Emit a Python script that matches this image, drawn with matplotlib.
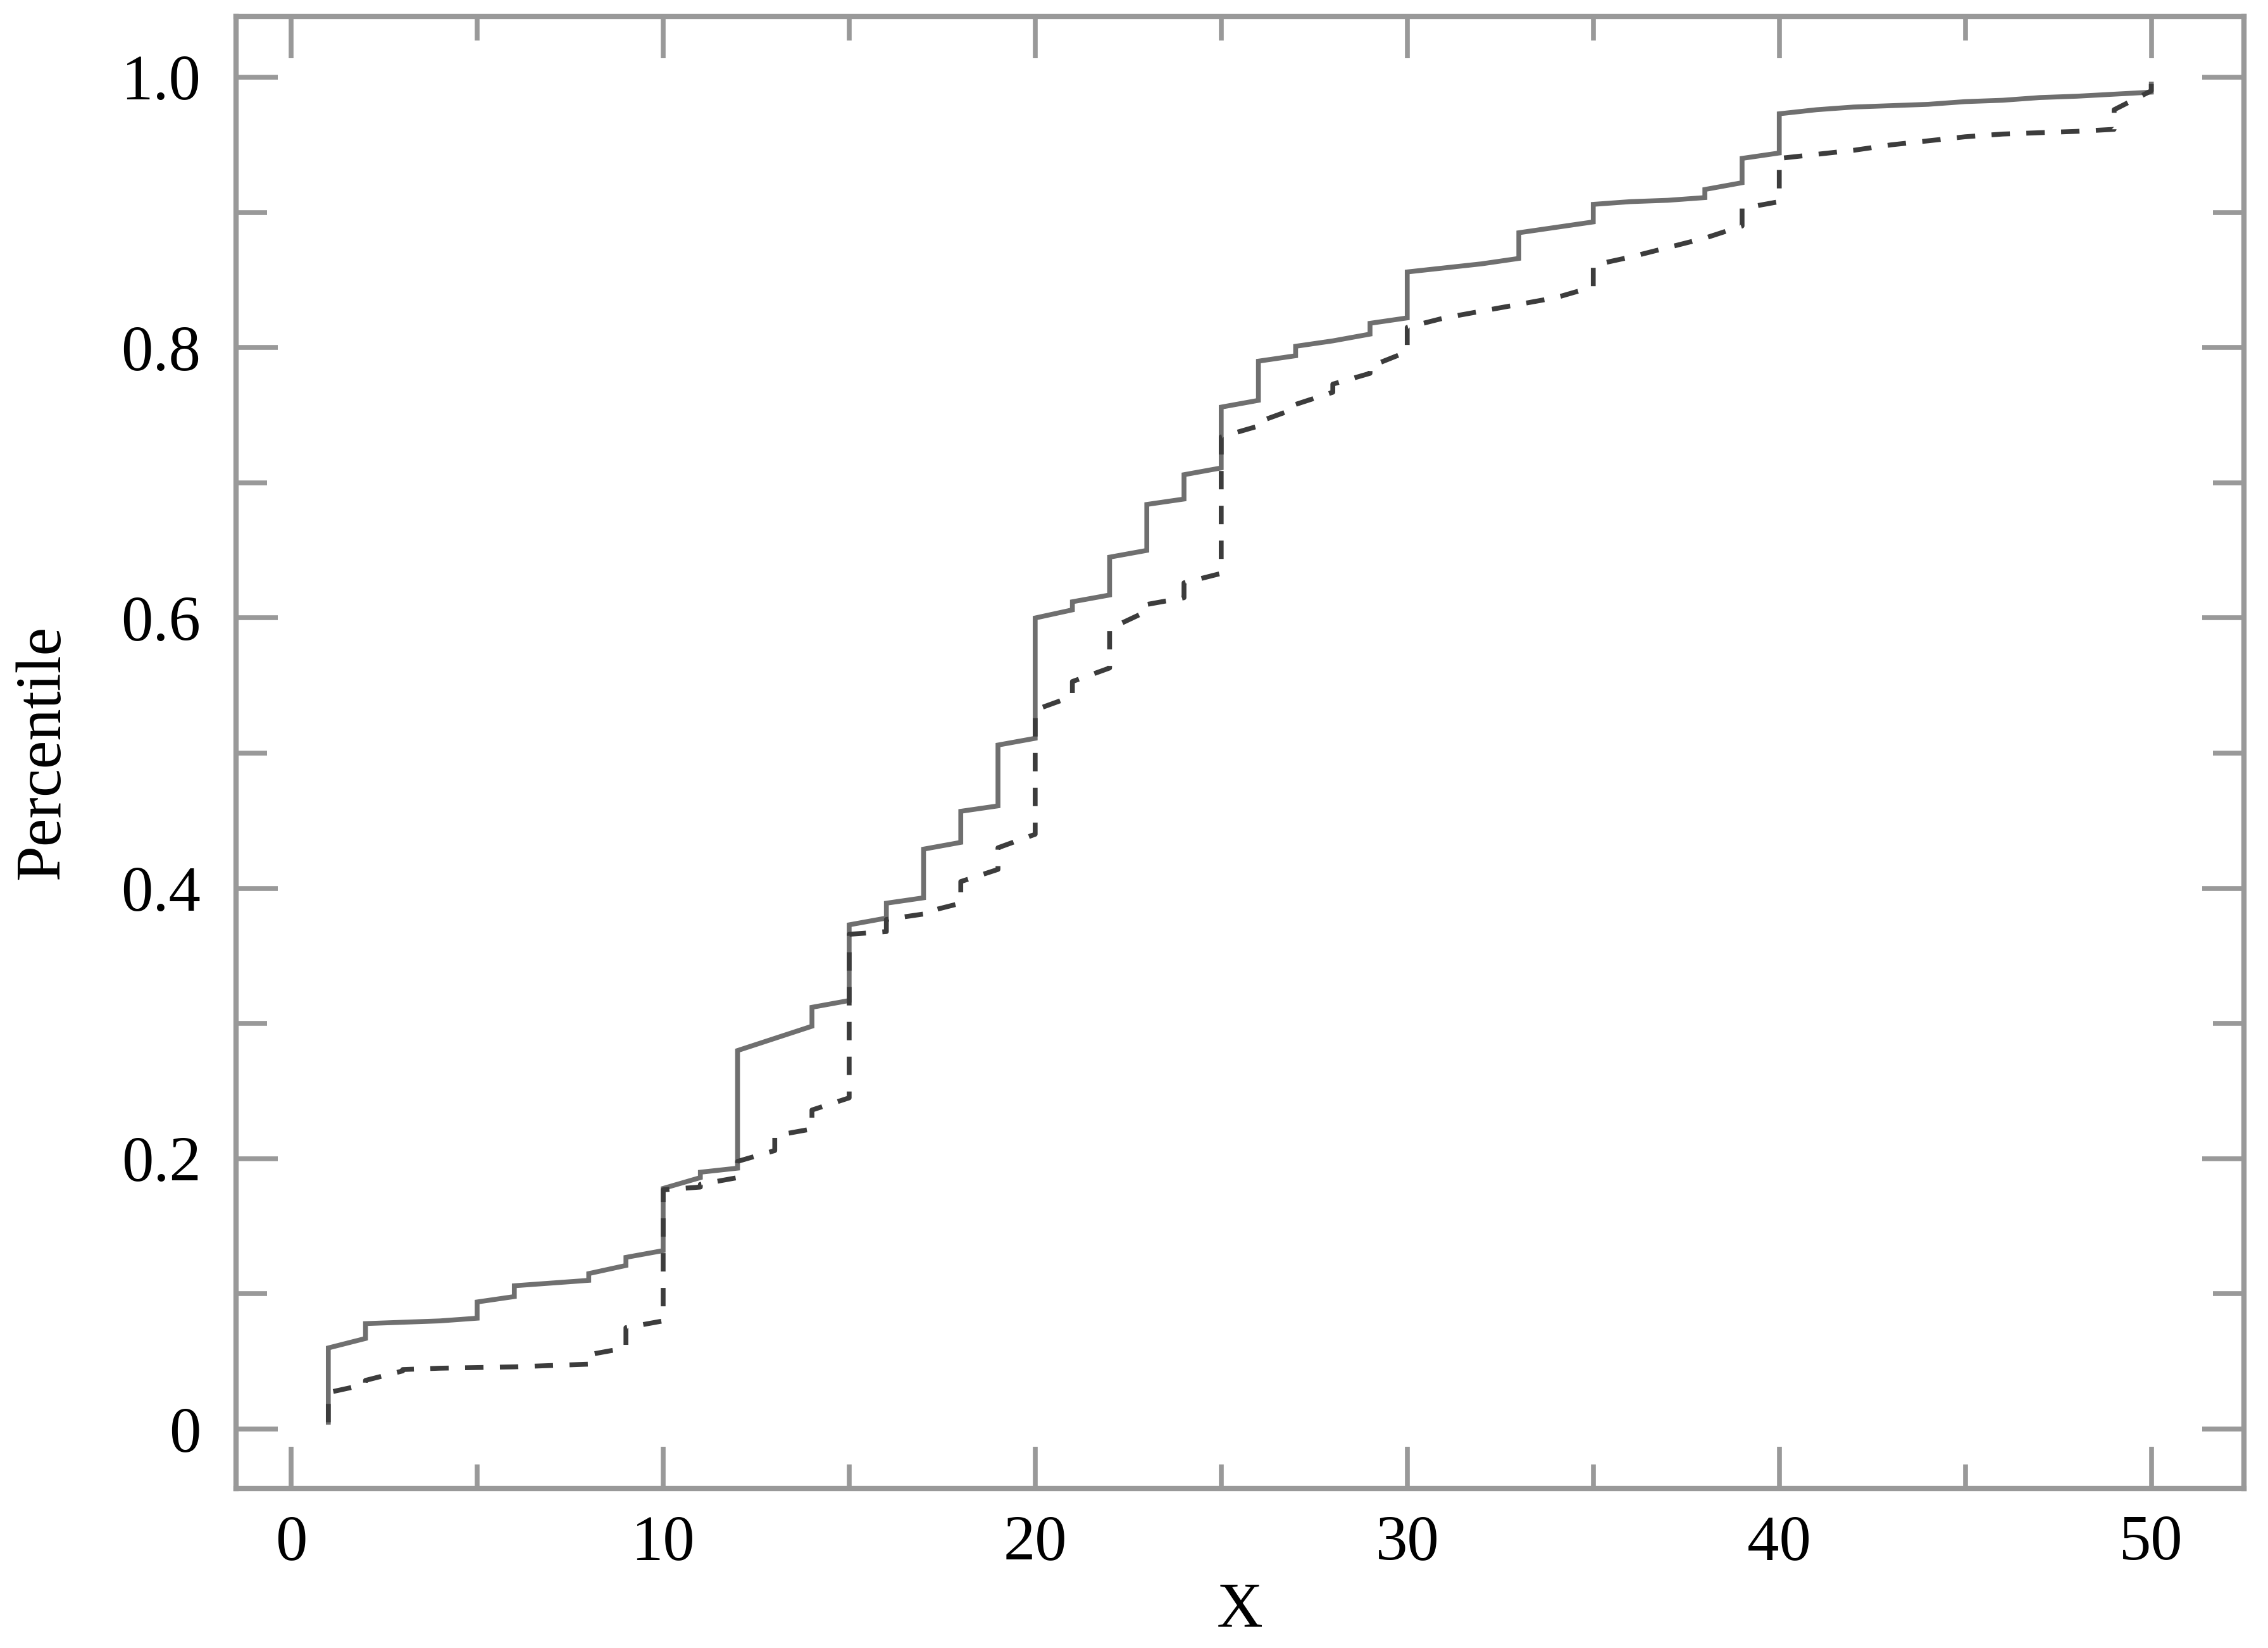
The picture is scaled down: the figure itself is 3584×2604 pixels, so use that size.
import numpy as np
import matplotlib
matplotlib.use("Agg")
import matplotlib.pyplot as plt
from matplotlib.ticker import MultipleLocator, FixedLocator, FixedFormatter

# ---- data ----
x_values = list(range(1, 51))

solid_lo = [0.005, 0.067, 0.079, 0.080, 0.082, 0.098, 0.108, 0.110, 0.121, 0.132,
            0.186, 0.193, 0.289, 0.298, 0.317, 0.378, 0.393, 0.434, 0.461, 0.511,
            0.606, 0.617, 0.650, 0.688, 0.711, 0.761, 0.794, 0.805, 0.810, 0.822,
            0.859, 0.862, 0.866, 0.889, 0.893, 0.908, 0.909, 0.911, 0.922, 0.944,
            0.976, 0.978, 0.979, 0.980, 0.982, 0.983, 0.985, 0.986, 0.9875, 0.989]
solid_hi = [0.060, 0.078, 0.079, 0.080, 0.094, 0.106, 0.108, 0.115, 0.127, 0.178,
            0.190, 0.280, 0.289, 0.312, 0.373, 0.389, 0.429, 0.457, 0.506, 0.600,
            0.612, 0.645, 0.684, 0.706, 0.756, 0.790, 0.801, 0.805, 0.818, 0.856,
            0.859, 0.862, 0.885, 0.889, 0.906, 0.908, 0.909, 0.917, 0.940, 0.973,
            0.976, 0.978, 0.979, 0.980, 0.982, 0.983, 0.985, 0.986, 0.9875, 0.995]

dashed_lo = [0.005, 0.033, 0.043, 0.045, 0.0455, 0.046, 0.047, 0.048, 0.060, 0.080,
             0.179, 0.186, 0.206, 0.222, 0.245, 0.368, 0.381, 0.389, 0.414, 0.440,
             0.542, 0.563, 0.605, 0.615, 0.633, 0.742, 0.755, 0.767, 0.781, 0.797,
             0.822, 0.827, 0.832, 0.837, 0.845, 0.867, 0.874, 0.881, 0.890, 0.908,
             0.943, 0.946, 0.950, 0.953, 0.956, 0.958, 0.959, 0.960, 0.9615, 0.990]
dashed_hi = [0.027, 0.036, 0.044, 0.045, 0.0455, 0.046, 0.047, 0.055, 0.075, 0.177,
             0.181, 0.198, 0.217, 0.236, 0.366, 0.377, 0.382, 0.405, 0.430, 0.532,
             0.553, 0.592, 0.610, 0.626, 0.734, 0.745, 0.758, 0.773, 0.786, 0.815,
             0.822, 0.827, 0.832, 0.837, 0.861, 0.867, 0.874, 0.881, 0.903, 0.940,
             0.943, 0.946, 0.950, 0.953, 0.956, 0.958, 0.959, 0.960, 0.976, 0.995]

x_ticks = [0, 10, 20, 30, 40, 50]
x_ticklabels = ["0", "10", "20", "30", "40", "50"]
y_ticks = [0, 0.2, 0.4, 0.6, 0.8, 1.0]
y_ticklabels = ["0", "0.2", "0.4", "0.6", "0.8", "1.0"]
x_label = "X"
y_label = "Percentile"


def step_path(xv, lo, hi):
    px, py = [], []
    for x, a, b in zip(xv, lo, hi):
        px += [x, x]
        py += [a, b]
    return px, py


plt.rcParams['font.family'] = ['Liberation Serif', 'DejaVu Serif']

fig = plt.figure(figsize=(3584 / 250, 2604 / 250), dpi=250)
ax = fig.add_axes([373 / 3584, 1 - 2352 / 2604, (3546 - 373) / 3584, (2352 - 26) / 2604])

sx, sy = step_path(x_values, solid_lo, solid_hi)
dx, dy = step_path(x_values, dashed_lo, dashed_hi)

ax.plot(sx, sy, color='#6f6f6f', linewidth=2.2, linestyle='-', solid_joinstyle='miter')
ax.plot(dx, dy, color='#3c3c3c', linewidth=2.2, linestyle=(0, (3.8, 3.4)))

ax.set_xlim(-1.48, 52.49)
ax.set_ylim(-0.044, 1.045)

ax.xaxis.set_major_locator(FixedLocator(x_ticks))
ax.xaxis.set_major_formatter(FixedFormatter(x_ticklabels))
ax.xaxis.set_minor_locator(MultipleLocator(5))
ax.yaxis.set_major_locator(FixedLocator(y_ticks))
ax.yaxis.set_major_formatter(FixedFormatter(y_ticklabels))
ax.yaxis.set_minor_locator(MultipleLocator(0.1))

spine_color = '#999999'
for s in ax.spines.values():
    s.set_color(spine_color)
    s.set_linewidth(2.4)

ax.tick_params(which='both', direction='in', top=True, right=True,
               color=spine_color, width=2.2, labelsize=29, labelcolor='black')
ax.tick_params(which='major', length=19)
ax.tick_params(axis='x', which='major', pad=12)
ax.tick_params(axis='y', which='major', pad=16)
ax.tick_params(axis='x', which='minor', length=11)
ax.tick_params(axis='y', which='minor', length=14)

ax.set_xlabel(x_label, fontsize=29, labelpad=4)
ax.set_ylabel(y_label, fontsize=29, labelpad=22)

fig.savefig("out.png", dpi=250, facecolor='white')
